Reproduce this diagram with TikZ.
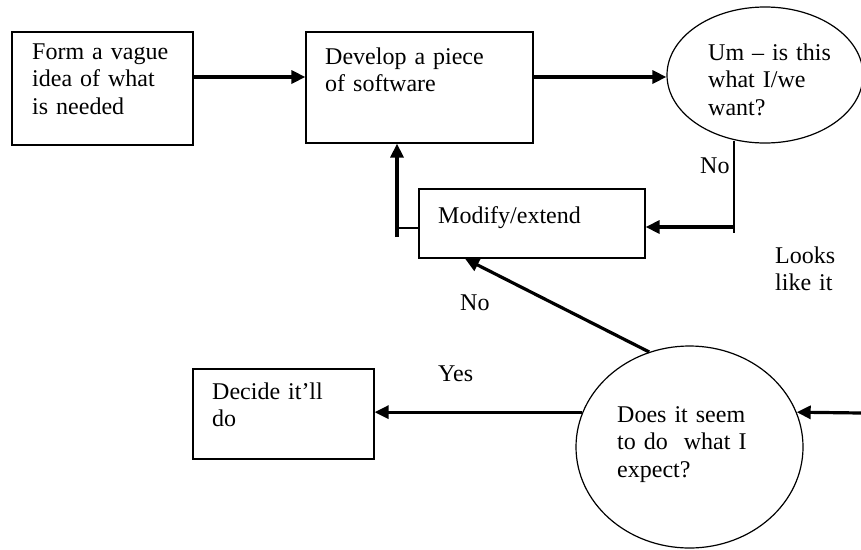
\documentclass[tikz,border=0pt]{standalone}
\usepackage{fontspec}
\setmainfont{Liberation Serif}
\usetikzlibrary{arrows.meta,shapes.geometric,positioning,calc}

\begin{document}
\begin{tikzpicture}[x=1pt,y=-1pt,
	boite/.style={draw, line width=\fin, rectangle, inner sep=0pt},
	bulle/.style={draw, line width=\fin, ellipse, inner sep=0pt},
	texte/.style={anchor=base west, inner sep=0pt, align=left, text width=180pt,
		font=\fontsize{24}{27.5}\selectfont},
	fleche/.style={line width=\epais, -{Triangle[length=14pt,width=13pt]}}]

%%%%%%%%%%%%%%%%%%%%%%
%%%	   Def style    %%%
%%%%%%%%%%%%%%%%%%%%%%

\def \epais{3.2pt}
\def \fin{1.2pt}

\useasboundingbox (0,0) rectangle (861,549);

%%%%%%%%%%%%%%%%%%%%%%
%%%	    Formes      %%%
%%%%%%%%%%%%%%%%%%%%%%

\node[boite, minimum width=181pt, minimum height=113pt] (idee) at (102.5,88.5) {};
\node[boite, minimum width=227pt, minimum height=111pt] (logiciel) at (419.5,87.5) {};
\node[bulle, minimum width=196pt, minimum height=136pt] (question) at (765,75) {};
\node[boite, minimum width=226pt, minimum height=69pt] (modif) at (532,223.5) {};
\node[boite, minimum width=181pt, minimum height=90pt] (decision) at (283.5,414) {};
\node[bulle, minimum width=227pt, minimum height=202pt] (attente) at (689.5,447) {};

%%%%%%%%%%%%%%%%%%%%%%
%%%	    Textes      %%%
%%%%%%%%%%%%%%%%%%%%%%

\node[texte] (tidee) at (32,59) {Form a vague\\idea of what\\is needed};
\node[texte] (tlogiciel) at (325,64) {Develop a piece\\of software};
\node[texte] (tquestion) at (708,60) {Um – is this\\what I/we\\want?};
\node[texte] (tmodif) at (438,223) {Modify/extend};
\node[texte] (tdecision) at (212,399) {Decide it’ll\\do};
\node[texte] (tattente) at (617,422) {Does it seem\\to do~ what I\\expect?};

% Etiquettes des branches
\node[texte] (nonhaut) at (700,173) {No};
\node[texte] (ouihaut) at (775,263) {Looks\\like it};
\node[texte] (nonbas) at (460,310) {No};
\node[texte] (ouibas) at (438,381) {Yes};

%%%%%%%%%%%%%%%%%%%%%%
%%%	    Fleches     %%%
%%%%%%%%%%%%%%%%%%%%%%

\draw[fleche] ([yshift=11.5pt]idee.east) -- ([yshift=11.5pt]idee.east -| logiciel.west);
\draw[fleche] ([yshift=10.5pt]logiciel.east) -- ([yshift=10.5pt]logiciel.east -| question.west);

% Retour depuis la bulle vers la modification
\coordinate (coin) at (734,227);
\draw[line width=\fin] ([yshift=3pt]coin |- question.south) -- ([yshift=-6pt]coin);
\draw[fleche] (coin) -- (coin -| modif.east);

% Retour de la modification vers le logiciel
\coordinate (retour) at (397,228);
\draw[line width=\fin] ([yshift=-4.5pt]modif.west) -- (retour);
\draw[fleche] ([yshift=-9pt]retour) -- (retour |- logiciel.south);

% Sorties du cercle
\draw[fleche] (attente.113) -- ([xshift=-67pt]modif.south);
\draw[fleche] (attente.162) -- (attente.162 -| decision.east);

% Arrivee depuis la droite
\coordinate (bord) at (861,413);
\draw[fleche] (bord) -- (attente.18);

\end{tikzpicture}
\end{document}
